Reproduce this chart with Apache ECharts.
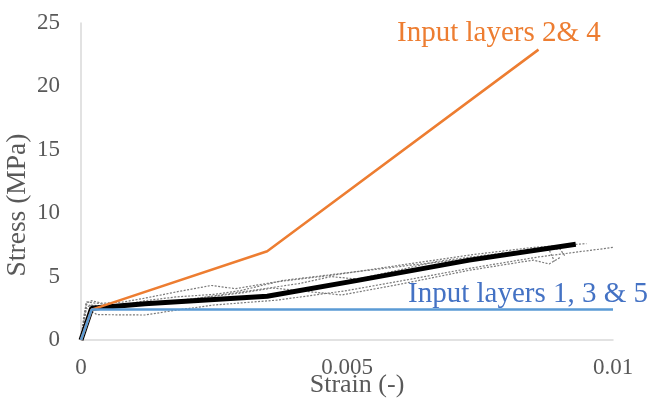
<!DOCTYPE html>
<html>
<head>
<meta charset="utf-8">
<script src="https://cdn.jsdelivr.net/npm/echarts@6/dist/echarts.min.js"></script>
<style>
  html, body { margin: 0; padding: 0; background: #ffffff; }
  #chart { width: 652px; height: 401px; }
</style>
</head>
<body>
<div id="chart"></div>
<script>
// Strain (-) vs stress (MPa) pairs
const layers24 = [[0, 0], [0.0002, 2.4], [0.0035, 7.0], [0.0086, 22.9]];
const layers135 = [[0, 0], [0.0002, 2.4], [0.01, 2.4]];
const meanCurve = [[0, 0], [0.0002, 2.5], [0.0012, 2.85], [0.0035, 3.45], [0.0052, 4.7], [0.0073, 6.3], [0.0093, 7.55]];

// Individual specimen curves
const specimen1 = [[0, 0], [0.00005, 1.8], [0.0001, 2.9], [0.0002, 3.1], [0.0004, 2.9], [0.0008, 3.0], [0.0012, 3.3], [0.0018, 3.8], [0.00245, 4.3], [0.0029, 4.05], [0.0037, 4.6], [0.0047, 5.1], [0.006, 5.9], [0.0073, 6.7], [0.0085, 7.3], [0.0095, 7.6]];
const specimen2 = [[0, 0], [0.0001, 2.6], [0.0002, 2.75], [0.0006, 2.6], [0.0012, 3.1], [0.0018, 3.4], [0.0025, 3.6], [0.003, 3.9], [0.0038, 4.7], [0.005, 5.3], [0.0062, 5.9], [0.0073, 6.4], [0.0085, 7.0], [0.009, 7.2], [0.0091, 6.6]];
const specimen3 = [[0, 0], [0.0001, 2.5], [0.0003, 2.0], [0.0012, 1.97], [0.0018, 2.36], [0.0025, 2.76], [0.0037, 3.15], [0.005, 3.9], [0.0062, 4.8], [0.0073, 5.65], [0.0086, 6.55], [0.01, 7.3]];
const specimen4 = [[0, 0], [0.0001, 2.8], [0.0003, 2.6], [0.001, 2.7], [0.002, 3.2], [0.003, 3.7], [0.0036, 4.1], [0.0049, 3.55], [0.006, 4.4], [0.0073, 5.5], [0.0085, 6.3], [0.0088, 6.0], [0.009, 6.5]];
const specimen5 = [[0, 0], [0.0001, 3.0], [0.0003, 2.9], [0.0008, 2.6], [0.0014, 2.9], [0.0022, 3.3], [0.0032, 3.9], [0.0041, 4.45], [0.0047, 5.0], [0.0052, 4.8], [0.0067, 6.2], [0.008, 6.9], [0.0088, 7.1], [0.0089, 6.2]];

const xTicks = [0, 0.005, 0.01];
const yTicks = [0, 5, 10, 15, 20, 25];

const serif = '"Liberation Serif", "Times New Roman", serif';
const tickColor = '#595959';

const specimens = [specimen1, specimen2, specimen3, specimen4, specimen5];
const specimenSeries = specimens.map(d => ({
  type: 'line', data: d, symbol: 'none', silent: true,
  lineStyle: { color: '#7a7a7a', width: 1.2, type: [2, 1.5] },
  z: 1
}));

const chart = echarts.init(document.getElementById('chart'), null, { renderer: 'canvas' });
chart.setOption({
  animation: false,
  backgroundColor: '#ffffff',
  grid: { left: 81, right: 39, top: 23, bottom: 61, containLabel: false },
  xAxis: {
    type: 'value', min: xTicks[0], max: xTicks[xTicks.length - 1], interval: xTicks[1] - xTicks[0],
    splitLine: { show: false },
    axisTick: { show: false },
    axisLine: { lineStyle: { color: '#d9d9d9', width: 1.5 } },
    axisLabel: {
      color: tickColor, fontFamily: serif, fontSize: 23, margin: 16,
      formatter: v => String(Number(v.toFixed(4)))
    }
  },
  yAxis: {
    type: 'value', min: yTicks[0], max: yTicks[yTicks.length - 1], interval: yTicks[1] - yTicks[0],
    splitLine: { show: false },
    axisTick: { show: false },
    axisLine: { show: true, lineStyle: { color: '#d9d9d9', width: 1.5 } },
    axisLabel: { color: tickColor, fontFamily: serif, fontSize: 23, margin: 21 }
  },
  graphic: [
    { type: 'text', x: 18, y: 205, rotation: Math.PI / 2,
      style: { text: 'Stress (MPa)', fill: tickColor, font: '27.5px ' + serif, align: 'center', verticalAlign: 'middle' } },
    { type: 'text', x: 357, y: 385,
      style: { text: 'Strain (-)', fill: tickColor, font: '26px ' + serif, align: 'center', verticalAlign: 'middle' } },
    { type: 'text', x: 397, y: 33,
      style: { text: 'Input layers 2& 4', fill: '#ed7d31', font: '29px ' + serif, align: 'left', verticalAlign: 'middle' } },
    { type: 'text', x: 408, y: 294,
      style: { text: 'Input layers 1, 3 & 5', fill: '#4472c4', font: '29px ' + serif, align: 'left', verticalAlign: 'middle' } }
  ],
  series: specimenSeries.concat([
    { type: 'line', data: meanCurve, symbol: 'none', lineStyle: { color: '#000000', width: 5 }, z: 3 },
    { type: 'line', data: layers24, symbol: 'none', lineStyle: { color: '#ed7d31', width: 2.5 }, z: 4 },
    { type: 'line', data: layers135, symbol: 'none', lineStyle: { color: '#5b9bd5', width: 2.5 }, z: 5 }
  ])
});
</script>
</body>
</html>
